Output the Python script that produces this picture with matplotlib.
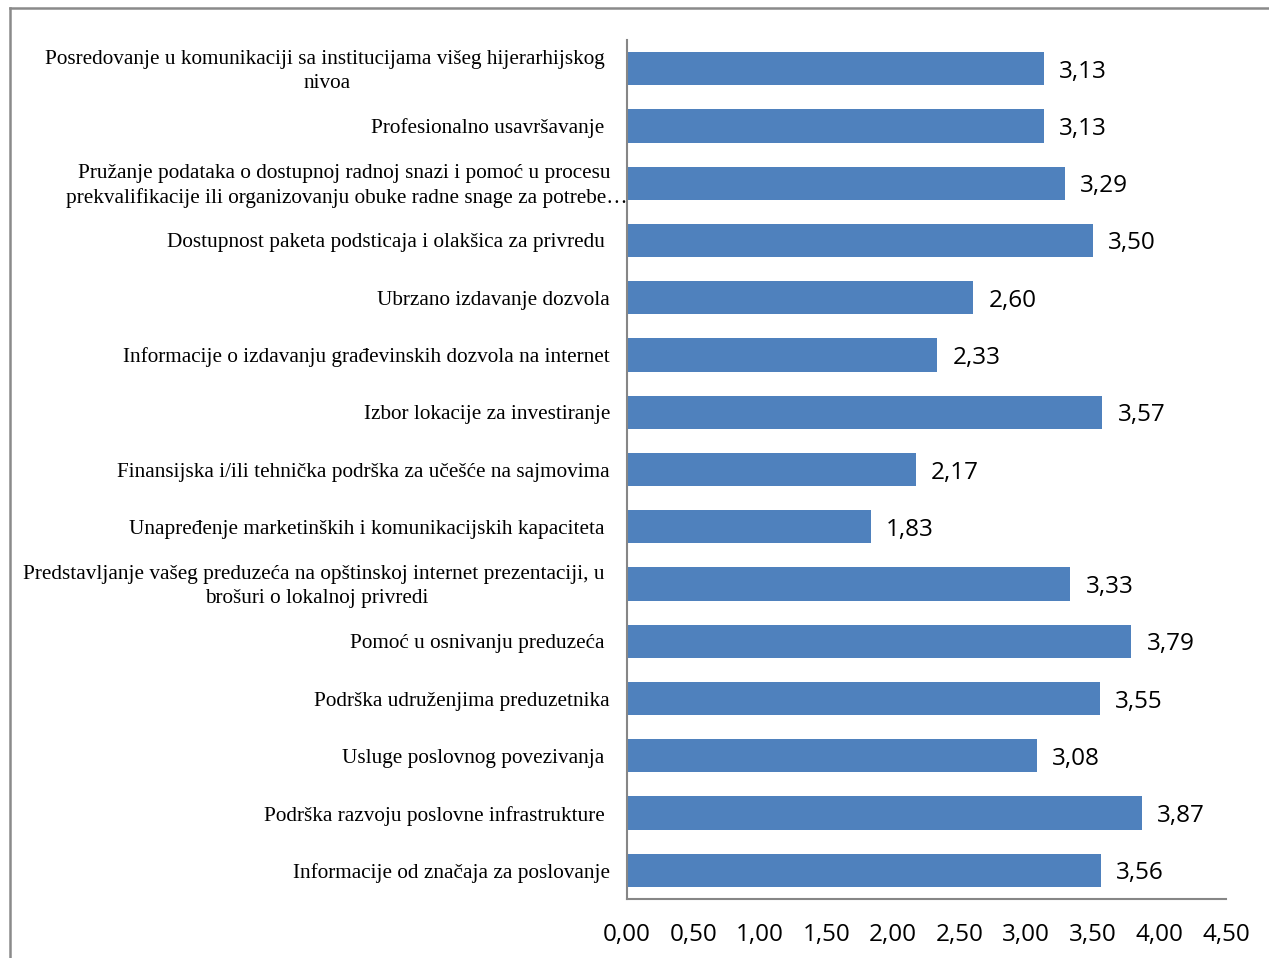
import matplotlib.pyplot as plt
import matplotlib.transforms as mtransforms
from matplotlib.lines import Line2D

# === DATA (top to bottom, as shown) ===
categories = [
    "Posredovanje u komunikaciji sa institucijama višeg hijerarhijskog \nnivoa",
    "Profesionalno usavršavanje ",
    "Pružanje podataka o dostupnoj radnoj snazi i pomoć u procesu \nprekvalifikacije ili organizovanju obuke radne snage za potrebe…",
    "Dostupnost paketa podsticaja i olakšica za privredu ",
    "Ubrzano izdavanje dozvola",
    "Informacije o izdavanju građevinskih dozvola na internet",
    "Izbor lokacije za investiranje",
    "Finansijska i/ili tehnička podrška za učešće na sajmovima",
    "Unapređenje marketinških i komunikacijskih kapaciteta ",
    "Predstavljanje vašeg preduzeća na opštinskoj internet prezentaciji, u \nbrošuri o lokalnoj privredi",
    "Pomoć u osnivanju preduzeća ",
    "Podrška udruženjima preduzetnika",
    "Usluge poslovnog povezivanja ",
    "Podrška razvoju poslovne infrastrukture ",
    "Informacije od značaja za poslovanje",
]
values = [3.13, 3.13, 3.29, 3.50, 2.60, 2.33, 3.57, 2.17, 1.83, 3.33,
          3.79, 3.55, 3.08, 3.87, 3.56]
x_ticks = [0.0, 0.5, 1.0, 1.5, 2.0, 2.5, 3.0, 3.5, 4.0, 4.5]

BAR_COLOR = "#4F81BD"
AXIS_COLOR = "#868686"


def fmt(v):
    return f"{v:.2f}".replace(".", ",")


# === PLOT ===
W, H = 1269, 958
fig = plt.figure(figsize=(W / 100, H / 100), dpi=100)
ax = fig.add_axes([627 / W, 1 - 899 / H, (1226 - 627) / W, (899 - 40) / H])

ypos = list(range(len(categories)))
ax.barh(ypos, values, height=0.58, color=BAR_COLOR)
ax.set_ylim(len(categories) - 0.5, -0.5)
ax.set_xlim(0, 4.5)

# category labels drawn as text so the overflowing one can stick out
ax.set_yticks([])
trans = mtransforms.blended_transform_factory(ax.transAxes, ax.transData)
for y, lab in zip(ypos, categories):
    shift = 1 if "…" in lab else -17  # pixels from the axis line
    t = trans + mtransforms.ScaledTranslation(shift / 100, -2.5 / 100, fig.dpi_scale_trans)
    ax.text(0, y, lab, transform=t, ha="right", va="center", multialignment="center",
            fontsize=15.3, family="Liberation Serif", linespacing=1.35)

ax.set_xticks(x_ticks)
ax.set_xticklabels([fmt(t) for t in x_ticks], fontsize=17.5, family="Open Sans")
ax.tick_params(axis="x", length=0, pad=17)

for s in ["top", "right"]:
    ax.spines[s].set_visible(False)
for s in ["left", "bottom"]:
    ax.spines[s].set_color(AXIS_COLOR)
    ax.spines[s].set_linewidth(1.5)

for y, v in zip(ypos, values):
    ax.annotate(fmt(v), (v, y), xytext=(11, -2.2), textcoords="offset points",
                ha="left", va="center", fontsize=17.5, family="Open Sans")

# outer chart border (continues past the right and bottom edges)
fig.add_artist(Line2D([10 / W, 10 / W], [0, 1 - 8 / H], transform=fig.transFigure,
                      color="#8A8A8A", lw=1.8))
fig.add_artist(Line2D([10 / W, 1], [1 - 8 / H, 1 - 8 / H], transform=fig.transFigure,
                      color="#8A8A8A", lw=1.8))

fig.savefig("out.png", dpi=100)
